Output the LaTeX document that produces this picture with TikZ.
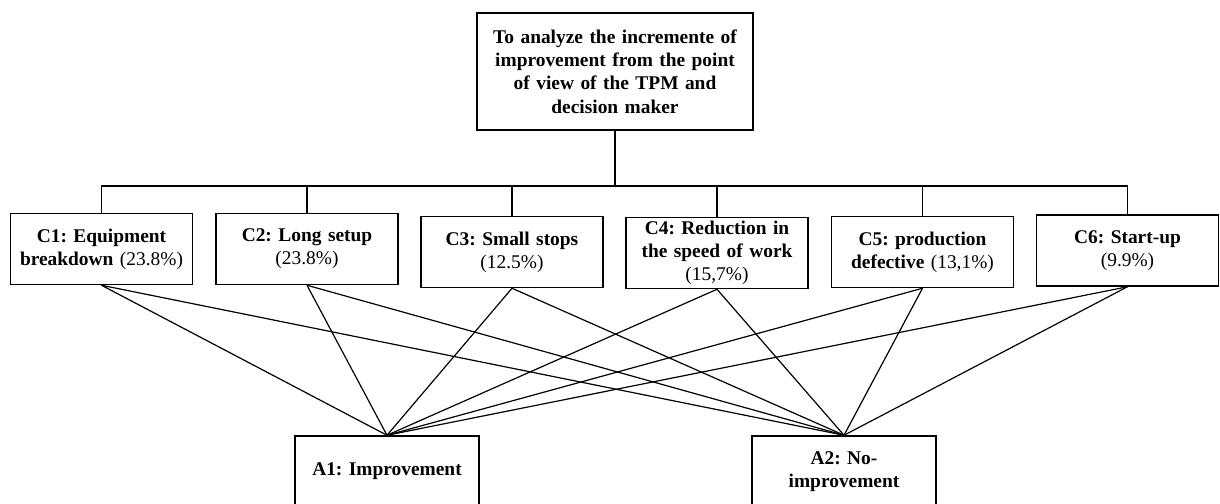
\documentclass[tikz,border=0pt]{standalone}
\usepackage{fontspec}
\setmainfont{Liberation Serif}
\usetikzlibrary{positioning}
\frenchspacing
\begin{document}
\begin{tikzpicture}[x=0.5pt,y=-0.5pt,
  boite/.style={draw,line width=0.75pt,align=center,inner sep=1pt,font=\bfseries\fontsize{9.7}{11.6}\selectfont},
  crit/.style={boite,minimum width=91pt,minimum height=35.5pt,text width=88pt},
  alt/.style={boite,minimum width=92pt,minimum height=35.5pt,text width=88pt},
  lien/.style={line width=0.6pt}]
\useasboundingbox (0,0) rectangle (1220,503);
\clip (0,0) rectangle (1220,503);
% but
\node[boite,minimum width=138pt,minimum height=58.5pt,text width=132pt] (but) at (615,71.5)
  {To analyze the incremente of\\improvement from the point\\of view of the TPM and\\decision maker};
% criteres
\node[crit] (c1) at (101.5,249) {C1: Equipment\\breakdown \textmd{(23.8\%)}};
\node[crit] (c2) at (307,249) {C2: Long setup\\\textmd{(23.8\%)}};
\node[crit] (c3) at (512,252) {C3: Small stops\\\textmd{(12.5\%)}};
\node[crit] (c4) at (717,253) {C4: Reduction in\\the speed of work\\\textmd{(15,7\%)}};
\node[crit] (c5) at (922.5,252) {C5: production\\defective \textmd{(13,1\%)}};
\node[crit] (c6) at (1127.5,250.5) {C6: Start-up\\\textmd{(9.9\%)}};
% alternatives
\node[alt] (a1) at (387,471.5) {A1: Improvement};
\node[alt] (a2) at (844,471.5) {A2: No-\\improvement};
% hierarchie
\coordinate (barre) at (0,186);
\draw[lien] (but) -- (but |- barre);
\draw[lien] (c1.north) |- (c6.north |- barre) -- (c6.north);
\foreach \c in {c2,c3,c4,c5}
  \draw[lien] (\c.north) -- (\c.north |- barre);
% liens
\foreach \c in {c1,c2,c3,c4,c5,c6}
  \foreach \a in {a1,a2}
    \draw[lien] (\c.south) -- (\a.north);
\end{tikzpicture}
\end{document}
